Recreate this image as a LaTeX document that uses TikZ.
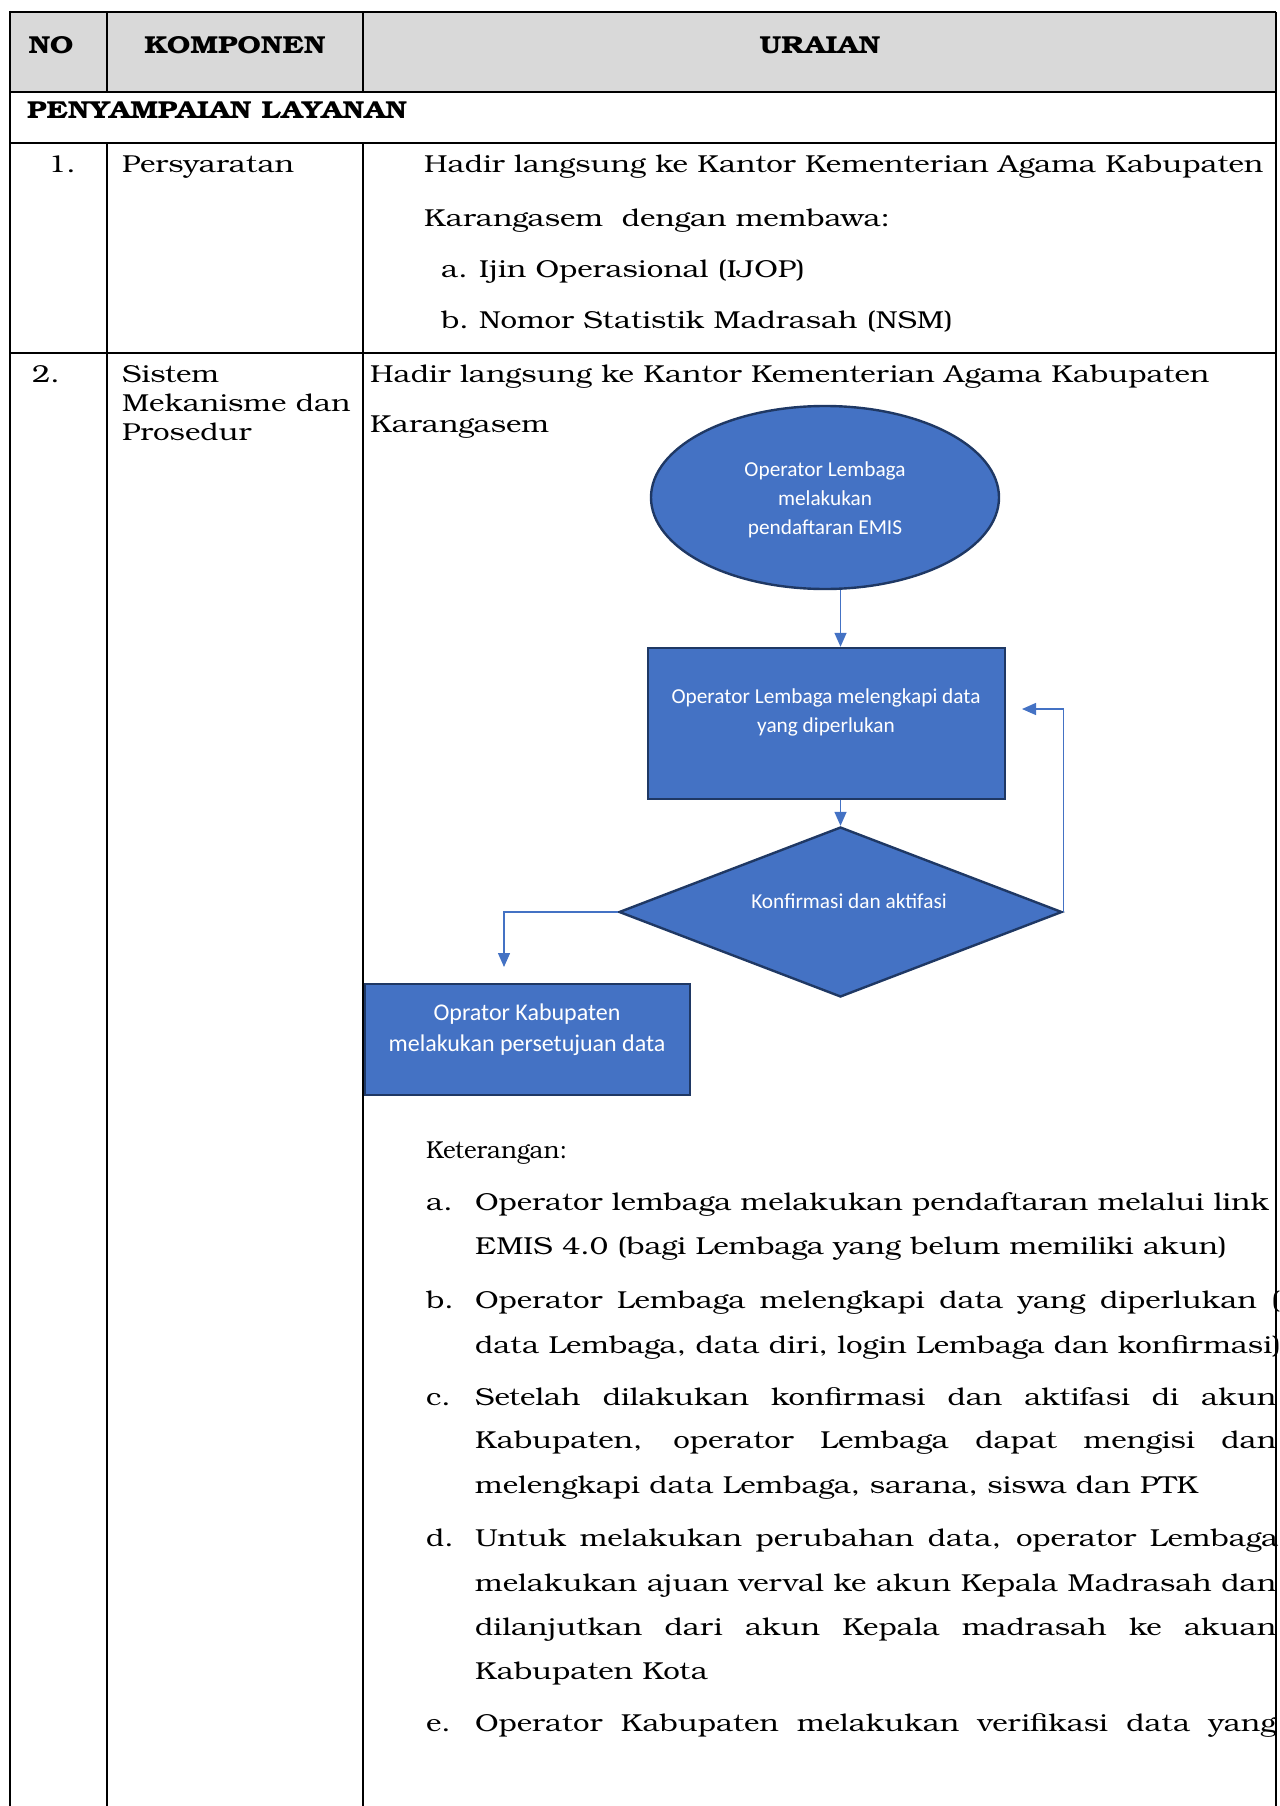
\documentclass[tikz,border=0pt]{standalone}
\usepackage{fontspec}
\setmainfont[FakeStretch=1.2]{TeX Gyre Bonum}
\newfontfamily\flowfont{Carlito}
\usetikzlibrary{shapes.geometric,arrows.meta,calc}
\definecolor{boxblue}{HTML}{4472C4}
\definecolor{boxedge}{HTML}{1F3864}
\definecolor{hdrgray}{HTML}{D9D9D9}
\begin{document}
\begin{tikzpicture}[x=1pt,y=-1pt,
  body/.style={anchor=base west,inner sep=0pt,font=\fontsize{24.5}{29}\selectfont},
  head/.style={anchor=base,inner sep=0pt,font=\fontsize{24.5}{29}\selectfont\bfseries},
  grid/.style={line width=1.6pt,black},
  heavy/.style={line width=2.8pt,black},
  shapebox/.style={draw=boxedge,fill=boxblue,line width=2.4pt,inner sep=0pt},
  flowtext/.style={text=white,align=center,inner sep=0pt,font=\flowfont\fontsize{21.3}{29}\selectfont},
  flow/.style={draw=boxblue,line width=1.4pt,-{Triangle[length=14pt,width=12pt]}},
  jline/.style={body}]
\useasboundingbox (0,0) rectangle (1279,1806);
\clip (0,0) rectangle (1279,1806);

% ---------- table frame ----------
\fill[hdrgray] (10,12) rectangle (1276,92);
\draw[grid] (10,12) -- (1276,12);
\draw[grid] (10,92) -- (1276,92);
\draw[heavy] (10,143) -- (1276,143);
\draw[heavy] (10,353) -- (1276,353);
\draw[heavy] (10,11) -- (10,1806);
\draw[grid] (1276,12) -- (1276,1806);
\draw[grid] (107,12) -- (107,92);
\draw[grid] (363,12) -- (363,92);
\draw[grid] (107,143) -- (107,1806);
\draw[grid] (363,143) -- (363,1806);

% ---------- header ----------
\node[head] (hno) at (51,54) {NO};
\node[head] (hkomp) at (235,54) {KOMPONEN};
\node[head] (hur) at (820,54) {URAIAN};
\node[body,font=\fontsize{24.5}{29}\selectfont\bfseries] (sect) at (27,119) {PENYAMPAIAN LAYANAN};

% ---------- row 1 ----------
\node[body] (n1) at (48,173) {1.};
\node[body] (k1) at (122,173) {Persyaratan};
\node[body] (u1a) at (424,173) {Hadir langsung ke Kantor Kementerian Agama Kabupaten};
\node[body] (u1b) at (424,226) {Karangasem\ \ dengan membawa:};
\node[body] (u1c) at (441,277) {a.};
\node[body] (u1ct) at (479,277) {Ijin Operasional (IJOP)};
\node[body] (u1d) at (441,328) {b.};
\node[body] (u1dt) at (479,328) {Nomor Statistik Madrasah (NSM)};

% ---------- row 2 ----------
\node[body] (n2) at (32,382) {2.};
\node[body] (k2a) at (122,382) {Sistem};
\node[body] (k2b) at (122,411) {Mekanisme dan};
\node[body] (k2c) at (122,440) {Prosedur};
\node[body] (u2a) at (370,382) {Hadir langsung ke Kantor Kementerian Agama Kabupaten};
\node[body] (u2b) at (370,432) {Karangasem};

% ---------- flowchart ----------
\node[shapebox,ellipse,minimum width=348pt,minimum height=183pt] (ell) at (825,497.5) {};
\node[flowtext] (ellt) at (825,500) {Operator Lembaga\\melakukan\\pendaftaran EMIS};

\node[shapebox,rectangle,minimum width=357pt,minimum height=151pt] (r1) at (826.5,723.5) {};
\node[flowtext] (r1t) at (826,712) {Operator Lembaga melengkapi data\\yang diperlukan};

\node[shapebox,diamond,minimum width=443pt,minimum height=170pt] (dia) at (840.5,912) {};
\node[flowtext] (diat) at (849,901) {Konfirmasi dan aktifasi};

\node[shapebox,rectangle,minimum width=325pt,minimum height=111pt] (r2) at (527.5,1039.5) {};
\node[flowtext,font=\flowfont\fontsize{24}{31}\selectfont] (r2t) at (527,1030) {Oprator Kabupaten\\melakukan persetujuan data};

\coordinate (backtip) at (1022,709);
\coordinate (downtip) at (504,967);
\draw[flow] (ell.south -| dia.north) -- (r1.north -| dia.north);
\draw[flow] (r1.south -| dia.north) -- (dia.north);
\draw[flow] (dia.east) |- (backtip);
\draw[flow] (dia.west) -| (downtip);

% ---------- notes ----------
\node[body] (ket) at (426,1158) {\scalebox{0.82}[1]{Keterangan:}};
\node[body] (la) at (426,1210) {a.};
\node[body] (la1) at (475,1210) {Operator lembaga melakukan pendaftaran melalui link};
\node[body] (la2) at (475,1254) {EMIS 4.0 (bagi Lembaga yang belum memiliki akun)};
\node[body] (lb) at (426,1308) {b.};
\node[jline] (lb1) at (475,1308) {\makebox[805pt][s]{Operator Lembaga melengkapi data yang diperlukan (}};
\node[body] (lb2) at (475,1353) {data Lembaga, data diri, login Lembaga dan konfirmasi)};
\node[body] (lc) at (426,1405) {c.};
\node[jline] (lc1) at (475,1405) {\makebox[801pt][s]{Setelah dilakukan konfirmasi dan aktifasi di akun}};
\node[jline] (lc2) at (475,1448) {\makebox[801pt][s]{Kabupaten, operator Lembaga dapat mengisi dan}};
\node[body] (lc3) at (475,1493) {melengkapi data Lembaga, sarana, siswa dan PTK};
\node[body] (ld) at (426,1546) {d.};
\node[jline] (ld1) at (475,1546) {\makebox[803pt][s]{Untuk melakukan perubahan data, operator Lembaga}};
\node[jline] (ld2) at (475,1591) {\makebox[801pt][s]{melakukan ajuan verval ke akun Kepala Madrasah dan}};
\node[jline] (ld3) at (475,1635) {\makebox[801pt][s]{dilanjutkan dari akun Kepala madrasah ke akuan}};
\node[body] (ld4) at (475,1679) {Kabupaten Kota};
\node[body] (le) at (426,1731) {e.};
\node[jline] (le1) at (475,1731) {\makebox[801pt][s]{Operator Kabupaten melakukan verifikasi data yang}};
\end{tikzpicture}
\end{document}
